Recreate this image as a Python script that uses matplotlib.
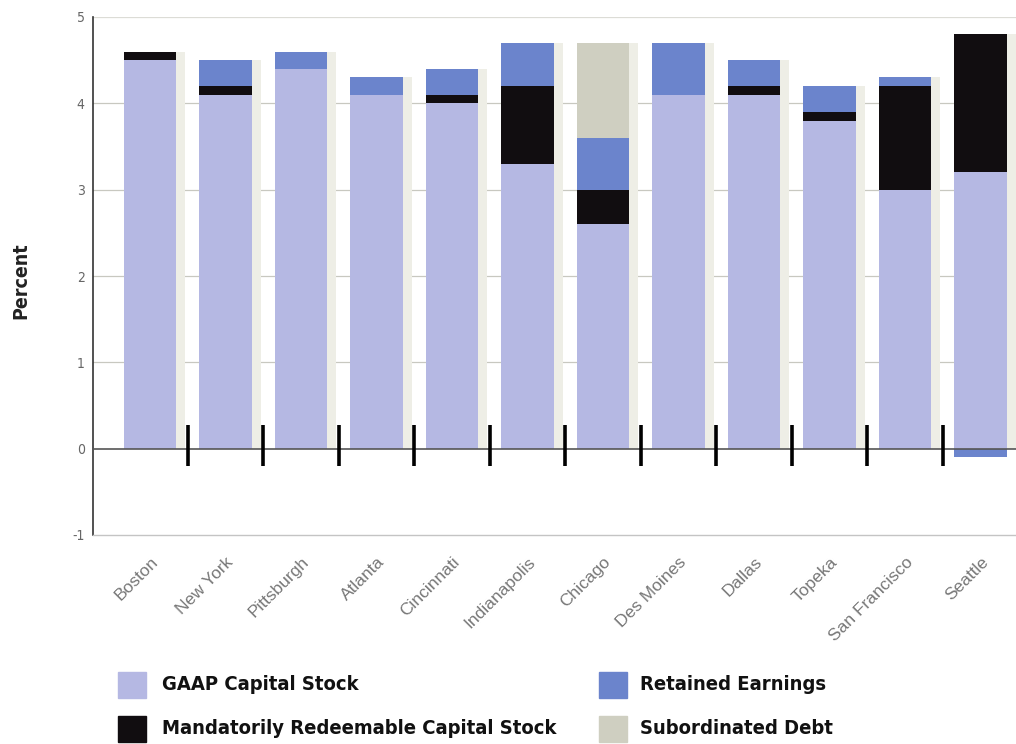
import matplotlib
matplotlib.use("Agg")
import matplotlib.pyplot as plt
import numpy as np
from matplotlib.patches import Rectangle

banks = ["Boston", "New York", "Pittsburgh", "Atlanta", "Cincinnati", "Indianapolis",
         "Chicago", "Des Moines", "Dallas", "Topeka", "San Francisco", "Seattle"]
gaap = [4.5, 4.1, 4.4, 4.1, 4.0, 3.3, 2.6, 4.1, 4.1, 3.8, 3.0, 3.2]
mrcs = [0.1, 0.1, 0.0, 0.0, 0.1, 0.9, 0.4, 0.0, 0.1, 0.1, 1.2, 1.6]
retained = [0.0, 0.3, 0.2, 0.2, 0.3, 0.5, 0.6, 0.6, 0.3, 0.3, 0.1, -0.1]
subdebt = [0.0, 0.0, 0.0, 0.0, 0.0, 0.0, 1.1, 0.0, 0.0, 0.0, 0.0, 0.0]
yticks = [-1, 0, 1, 2, 3, 4, 5]
series_names = ["GAAP Capital Stock", "Mandatorily Redeemable Capital Stock",
                "Retained Earnings", "Subordinated Debt"]

c_gaap = "#b5b8e3"
c_mrcs = "#110d10"
c_re = "#6b84cc"
c_sd = "#cfcfc1"
colors = [c_gaap, c_mrcs, c_re, c_sd]

W, H = 1016, 744
fig = plt.figure(figsize=(W / 100, H / 100), dpi=100)
ax = fig.add_axes([93 / W, 1 - 535 / H, 1 - 93 / W, (535 - 17) / H])

x = np.arange(len(banks))
w = 0.69
g = np.array(gaap)
m = np.array(mrcs)
r = np.array(retained)
s = np.array(subdebt)

tops = g + m + np.clip(r, 0, None) + s
ax.bar(x + 0.12, tops, width=w, color="#eeeee6", zorder=1, linewidth=0)

ax.bar(x, g, width=w, color=c_gaap, zorder=2, linewidth=0)
ax.bar(x, m, width=w, bottom=g, color=c_mrcs, zorder=2, linewidth=0)
re_bottom = np.where(r >= 0, g + m, 0)
ax.bar(x, r, width=w, bottom=re_bottom, color=c_re, zorder=2, linewidth=0)
ax.bar(x, s, width=w, bottom=g + m + np.clip(r, 0, None), color=c_sd, zorder=2, linewidth=0)

ax.set_xlim(-0.755, 11.47)
ax.set_ylim(-1, 5)
for yv in [1, 2, 3, 4]:
    ax.axhline(yv, color="#c8c8c0", lw=0.9, zorder=0)
ax.axhline(5, color="#dcdcd6", lw=0.9, zorder=0)
ax.axhline(0, color="#555555", lw=1.2, zorder=3)
ax.vlines(x[:-1] + 0.5, -0.2, 0.27, color="black", lw=2.6, zorder=4)
ax.vlines([11.5], -0.2, 0.27, color="black", lw=2.6, zorder=4, clip_on=False)

for sp in ["top", "right"]:
    ax.spines[sp].set_visible(False)
ax.spines["left"].set_color("#333333")
ax.spines["left"].set_linewidth(1.2)
ax.spines["bottom"].set_color("#c4c4c4")
ax.spines["bottom"].set_linewidth(1.0)

ax.set_yticks(yticks)
ax.set_yticklabels([str(v) for v in yticks], fontsize=10, color="#666666",
                   family="DejaVu Sans", fontstretch="condensed")
ax.tick_params(axis="y", length=0, pad=6)
ax.set_xticks(x)
ax.set_xticklabels(banks, rotation=45, ha="right", rotation_mode="anchor",
                   fontsize=12.5, color="#777777", family="Liberation Sans")
ax.tick_params(axis="x", length=0, pad=14)

ax.set_ylabel("Percent", fontsize=14, fontweight="bold", family="DejaVu Sans",
              fontstretch="condensed", color="#222222")
ax.yaxis.set_label_coords(21 / W, 1 - 281 / H, transform=fig.transFigure)
ax.yaxis.label.set_va("center")

# legend drawn in figure pixel coordinates
leg_cols = [(118, 162), (599, 640)]
leg_rows = [685, 729]
for i, (name, col) in enumerate(zip(series_names, colors)):
    cx, tx = leg_cols[i // 2]
    cy = leg_rows[i % 2]
    fig.patches.append(Rectangle((cx / W, 1 - (cy + 13) / H), 28 / W, 26 / H,
                                 transform=fig.transFigure, color=col, figure=fig))
    fig.text(tx / W, 1 - cy / H, name, fontsize=14.5, fontweight="bold",
             family="DejaVu Sans", fontstretch="condensed", color="#111111",
             va="center", ha="left")

fig.savefig("out.png", dpi=100)
